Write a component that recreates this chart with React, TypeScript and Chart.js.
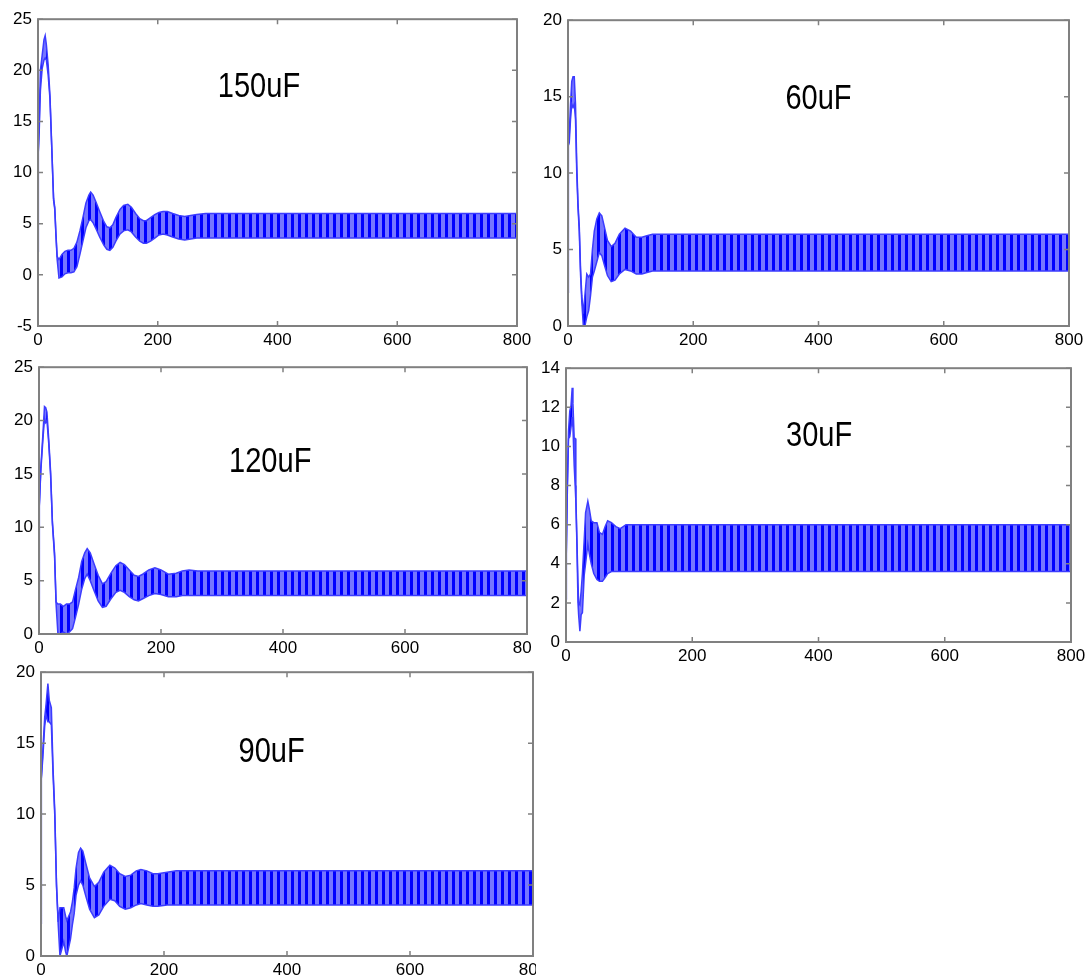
import React, { useEffect, useRef } from 'react';
import { Chart, registerables } from 'chart.js';

Chart.register(...registerables);

// ---------- data ----------
const xTickValues = [0, 200, 400, 600, 800];

// 150uF
const c150X = [0, 0.5, 2, 4, 7, 10, 12, 14, 17, 20, 23, 26, 28, 30, 32, 35, 40, 45, 50, 55, 60, 65, 70, 75, 80, 85, 88, 92, 97, 103, 110, 115, 120, 125, 130, 137, 143, 150, 156, 163, 170, 176, 181, 188, 195, 202, 209, 216, 225, 235, 245, 255, 265, 280, 800];
const c150Upper = [2.3, 12, 15, 20, 21.5, 23.0, 23.4, 22.5, 20.5, 17.5, 12.5, 7.5, 6.6, 4.0, 1.8, 1.5, 2.0, 2.3, 2.4, 2.4, 2.6, 3.2, 4.3, 5.6, 7.0, 7.8, 8.1, 7.8, 7.1, 6.2, 5.2, 4.7, 4.6, 4.9, 5.6, 6.4, 6.8, 6.9, 6.6, 6.0, 5.5, 5.3, 5.3, 5.6, 5.9, 6.1, 6.2, 6.2, 6.0, 5.8, 5.7, 5.8, 5.9, 6.0, 6.0];
const c150Lower = [2.3, 12, 14, 18, 20.2, 21.0, 21.2, 21.0, 19.5, 17.2, 12.3, 7.3, 6.4, 3.8, 1.5, -0.3, -0.2, 0.1, 0.2, 0.2, 0.3, 0.8, 2.0, 3.3, 4.6, 5.3, 5.4, 5.1, 4.5, 3.7, 2.9, 2.5, 2.4, 2.7, 3.3, 4.0, 4.3, 4.4, 4.2, 3.7, 3.3, 3.1, 3.1, 3.3, 3.6, 3.9, 4.0, 3.9, 3.7, 3.5, 3.4, 3.5, 3.6, 3.6, 3.6];
const c150YTicks = [-5, 0, 5, 10, 15, 20, 25];

// 60uF
const c60X = [0, 0.5, 2, 4, 6, 8, 10, 12, 14, 16, 18, 20, 22, 24.5, 27, 30, 33, 36, 39, 42, 46, 50, 54, 58, 63, 69, 75, 82, 91, 100, 109, 118, 126, 135, 800];
const c60Upper = [2.2, 11.8, 12.5, 14.5, 16.0, 16.3, 16.3, 14.5, 10.5, 8.0, 6.5, 3.8, 2.0, 0.8, 2.0, 3.4, 3.2, 3.4, 5.0, 6.2, 7.0, 7.4, 7.2, 6.5, 5.6, 5.2, 5.4, 6.0, 6.4, 6.2, 5.8, 5.8, 5.9, 6.0, 6.0];
const c60Lower = [2.2, 11.8, 12.0, 13.5, 14.5, 14.3, 14.5, 13.5, 10.0, 7.7, 6.2, 3.4, 1.6, 0.0, 0.0, 0.6, 1.0, 2.0, 3.2, 3.6, 4.2, 4.8, 4.6, 4.0, 3.3, 2.9, 3.0, 3.4, 3.7, 3.6, 3.4, 3.4, 3.5, 3.6, 3.6];
const c60YTicks = [0, 5, 10, 15, 20];

// 120uF
const c120X = [0, 0.5, 3, 6.5, 9, 11, 13, 16, 19, 22, 25.5, 28, 31, 35, 40, 45, 50, 55, 60, 65, 70, 75, 79, 84, 90, 97, 104, 110, 118, 126, 133, 140, 148, 156, 163, 170, 180, 190, 200, 212, 225, 235, 246, 260, 800];
const c120Upper = [2.3, 12, 15.6, 18.8, 21.3, 21.2, 20.8, 18.2, 15.2, 10.5, 7.6, 3.0, 2.8, 2.8, 2.6, 2.8, 2.8, 3.0, 4.2, 5.3, 6.8, 7.6, 8.0, 7.6, 6.6, 5.5, 4.7, 4.9, 5.7, 6.4, 6.7, 6.5, 6.0, 5.5, 5.4, 5.6, 6.0, 6.2, 6.0, 5.6, 5.7, 5.9, 6.0, 5.9, 5.9];
const c120Lower = [2.3, 12, 15.3, 18.3, 20.2, 19.8, 20.0, 17.8, 14.9, 10.3, 7.3, 2.8, 0.0, 0.0, 0.2, 0.0, 0.2, 0.5, 1.6, 2.8, 4.2, 5.2, 5.6, 5.0, 4.1, 3.1, 2.5, 2.6, 3.3, 3.9, 4.1, 3.9, 3.5, 3.2, 3.1, 3.3, 3.6, 3.8, 3.7, 3.5, 3.5, 3.6, 3.6, 3.6, 3.6];
const c120YTicks = [0, 5, 10, 15, 20, 25];

// 30uF
const c30X = [0, 0.5, 2, 4, 6, 8, 9.8, 11, 13, 14.5, 15.6, 17.3, 19, 20, 22, 24, 26, 28.8, 31, 34.6, 37, 40, 44, 49, 53, 57.7, 62, 66, 72, 79, 86, 95, 800];
const c30Upper = [2.2, 4.5, 8.0, 10.8, 11.8, 12.1, 13.0, 12.2, 10.4, 10.4, 7.5, 5.2, 3.0, 2.0, 1.9, 2.6, 3.5, 5.2, 6.6, 7.2, 6.8, 6.2, 6.1, 6.1, 5.6, 5.5, 5.9, 6.2, 6.1, 5.9, 5.8, 6.0, 6.0];
const c30Lower = [2.2, 4.5, 7.5, 10.4, 10.5, 11.0, 11.5, 11.0, 9.0, 8.0, 7.2, 5.0, 2.0, 1.4, 0.55, 1.4, 1.5, 3.4, 4.0, 5.0, 4.5, 4.0, 3.5, 3.2, 3.1, 3.1, 3.3, 3.5, 3.6, 3.6, 3.6, 3.6, 3.6];
const c30YTicks = [0, 2, 4, 6, 8, 10, 12, 14];

// 90uF
const c90X = [0, 0.5, 3, 6, 8.4, 11.2, 13.5, 16.8, 19.6, 22.4, 25.2, 28, 30.8, 34, 37, 40, 42, 45, 48, 51, 54, 57, 61, 64.4, 68, 73, 79, 86.8, 94, 102, 112, 120, 128, 137, 146, 155, 162.5, 172, 182, 190, 205, 220, 800];
const c90Upper = [2.3, 12.5, 14.5, 16.8, 17.8, 19.2, 18.0, 17.5, 13.2, 10.2, 5.1, 2.4, 3.4, 3.4, 3.4, 2.8, 2.5, 2.8, 3.1, 3.8, 4.8, 6.2, 7.3, 7.6, 7.4, 6.5, 5.5, 4.9, 5.2, 5.9, 6.4, 6.2, 5.8, 5.6, 5.7, 6.0, 6.1, 6.0, 5.8, 5.8, 5.9, 6.0, 6.0];
const c90Lower = [2.3, 12.5, 14.0, 16.2, 17.0, 16.5, 16.5, 16.3, 12.8, 9.9, 4.9, 2.2, 0.0, 0.5, 1.0, 0.3, 0.0, 0.6, 1.2, 2.2, 3.0, 4.3, 5.0, 5.3, 5.0, 4.2, 3.3, 2.7, 2.9, 3.5, 4.0, 3.9, 3.5, 3.3, 3.4, 3.6, 3.7, 3.6, 3.5, 3.5, 3.6, 3.6, 3.6];
const c90YTicks = [0, 5, 10, 15, 20];

// ---------- panel layout ----------
type PanelSpec = {
  label: string;
  labelX: number;
  labelY: number;
  xs: number[];
  upper: number[];
  lower: number[];
  yTicks: number[];
  left: number;
  top: number;
  canvasW: number;
  canvasH: number;
  clipW: number;
  yAxisW: number;
  padTop: number;
  padRight: number;
};

const PAD_TOP = 12;
const X_AXIS_H = 28;

const panels: PanelSpec[] = [
  { label: '150uF', labelX: 369, labelY: 18.6, xs: c150X, upper: c150Upper, lower: c150Lower, yTicks: c150YTicks,
    left: 0, top: 15 - PAD_TOP, canvasW: 545, canvasH: 311 + PAD_TOP + X_AXIS_H, clipW: 545, yAxisW: 38, padTop: PAD_TOP, padRight: 28 },
  { label: '60uF', labelX: 400, labelY: 15.0, xs: c60X, upper: c60Upper, lower: c60Lower, yTicks: c60YTicks,
    left: 530, top: 16 - PAD_TOP, canvasW: 561, canvasH: 310 + PAD_TOP + X_AXIS_H, clipW: 561, yAxisW: 38, padTop: PAD_TOP, padRight: 22 },
  { label: '120uF', labelX: 379, labelY: 16.4, xs: c120X, upper: c120Upper, lower: c120Lower, yTicks: c120YTicks,
    left: 0, top: 363 - PAD_TOP, canvasW: 555, canvasH: 271 + PAD_TOP + X_AXIS_H, clipW: 532, yAxisW: 39, padTop: PAD_TOP, padRight: 28 },
  { label: '30uF', labelX: 401, labelY: 10.65, xs: c30X, upper: c30Upper, lower: c30Lower, yTicks: c30YTicks,
    left: 530, top: 364 - PAD_TOP, canvasW: 561, canvasH: 278 + PAD_TOP + X_AXIS_H, clipW: 561, yAxisW: 36, padTop: PAD_TOP, padRight: 20 },
  { label: '90uF', labelX: 375, labelY: 14.55, xs: c90X, upper: c90Upper, lower: c90Lower, yTicks: c90YTicks,
    left: 0, top: 668 - PAD_TOP, canvasW: 561, canvasH: 288 + PAD_TOP + X_AXIS_H, clipW: 536, yAxisW: 41, padTop: PAD_TOP, padRight: 28 },
];

const FONT = '"Liberation Sans", Arial, Helvetica, sans-serif';

const framePlugin = {
  id: 'matlabFrame',
  afterDatasetsDraw(chart: any) {
    const { ctx, chartArea: a, scales } = chart;
    ctx.save();
    ctx.strokeStyle = '#808080';
    ctx.lineWidth = 2;
    ctx.strokeRect(a.left, a.top, a.right - a.left, a.bottom - a.top);
    ctx.lineWidth = 1.5;
    const tl = 5;
    ctx.beginPath();
    scales.x.ticks.forEach((t: any) => {
      const px = scales.x.getPixelForValue(t.value);
      ctx.moveTo(px, a.bottom);
      ctx.lineTo(px, a.bottom - tl);
      ctx.moveTo(px, a.top);
      ctx.lineTo(px, a.top + tl);
    });
    scales.y.ticks.forEach((t: any) => {
      const py = scales.y.getPixelForValue(t.value);
      ctx.moveTo(a.left, py);
      ctx.lineTo(a.left + tl, py);
      ctx.moveTo(a.right, py);
      ctx.lineTo(a.right - tl, py);
    });
    ctx.stroke();
    ctx.restore();
  },
};

const capLabelPlugin = {
  id: 'capLabel',
  afterDatasetsDraw(chart: any, _args: any, opts: any) {
    if (!opts || !opts.text) return;
    const { ctx, scales } = chart;
    const px = scales.x.getPixelForValue(opts.x);
    const py = scales.y.getPixelForValue(opts.y);
    ctx.save();
    ctx.font = `${opts.size}px ${FONT}`;
    ctx.fillStyle = '#000';
    ctx.textAlign = 'center';
    ctx.textBaseline = 'alphabetic';
    ctx.translate(px, py);
    ctx.scale(opts.squeeze, 1);
    ctx.fillText(opts.text, 0, opts.size * 0.358);
    ctx.restore();
  },
};

function makeStripes(): CanvasPattern | string {
  const c = document.createElement('canvas');
  c.width = 7;
  c.height = 1;
  const g = c.getContext('2d');
  if (!g) return 'rgba(100,100,255,1)';
  g.fillStyle = 'rgb(118,118,255)';
  g.fillRect(0, 0, 7, 1);
  g.fillStyle = 'rgb(0,0,255)';
  g.fillRect(4, 0, 3, 1);
  const p = g.createPattern(c, 'repeat');
  return p || 'rgba(100,100,255,1)';
}

function Panel({ spec }: { spec: PanelSpec }) {
  const ref = useRef<HTMLCanvasElement>(null);
  useEffect(() => {
    const canvas = ref.current;
    if (!canvas) return;
    const stripes = makeStripes();
    const lowerPts = spec.xs.map((x, i) => ({ x, y: spec.lower[i] }));
    const upperPts = spec.xs.map((x, i) => ({ x, y: spec.upper[i] }));
    const tickFont = { family: FONT, size: 17 };
    const chart = new Chart(canvas, {
      type: 'line',
      data: {
        datasets: [
          {
            data: lowerPts,
            borderColor: 'rgb(60,60,255)',
            borderWidth: 1.5,
            pointRadius: 0,
            tension: 0,
            fill: false,
          },
          {
            data: upperPts,
            borderColor: 'rgb(60,60,255)',
            borderWidth: 1.5,
            pointRadius: 0,
            tension: 0,
            fill: '-1',
            backgroundColor: stripes as any,
          },
        ],
      },
      options: {
        animation: false,
        responsive: false,
        events: [],
        layout: { padding: { left: 0, top: spec.padTop, right: spec.padRight, bottom: 0 } },
        plugins: {
          legend: { display: false },
          tooltip: { enabled: false },
          capLabel: { text: spec.label, x: spec.labelX, y: spec.labelY, size: 35, squeeze: 0.83 },
        } as any,
        scales: {
          x: {
            type: 'linear',
            min: 0,
            max: 800,
            afterBuildTicks: (s: any) => {
              s.ticks = xTickValues.map((v) => ({ value: v }));
            },
            afterFit: (s: any) => {
              s.height = X_AXIS_H;
            },
            grid: { display: false, drawTicks: false },
            border: { display: false },
            ticks: { font: tickFont, color: '#000', padding: 4, maxRotation: 0, autoSkip: false },
          },
          y: {
            type: 'linear',
            min: spec.yTicks[0],
            max: spec.yTicks[spec.yTicks.length - 1],
            afterBuildTicks: (s: any) => {
              s.ticks = spec.yTicks.map((v) => ({ value: v }));
            },
            afterFit: (s: any) => {
              s.width = spec.yAxisW;
            },
            grid: { display: false, drawTicks: false },
            border: { display: false },
            ticks: { font: tickFont, color: '#000', padding: 6, autoSkip: false },
          },
        },
      },
      plugins: [framePlugin, capLabelPlugin],
    } as any);
    return () => chart.destroy();
  }, [spec]);

  return (
    <div
      style={{
        position: 'absolute',
        left: spec.left,
        top: spec.top,
        width: spec.clipW,
        height: spec.canvasH,
        overflow: 'hidden',
      }}
    >
      <canvas ref={ref} width={spec.canvasW} height={spec.canvasH} style={{ display: 'block' }} />
    </div>
  );
}

export default function App() {
  return (
    <div
      style={{
        position: 'absolute',
        left: 0,
        top: 0,
        width: 1091,
        height: 978,
        overflow: 'hidden',
        background: '#fff',
      }}
    >
      {panels.map((p) => (
        <Panel key={p.label} spec={p} />
      ))}
    </div>
  );
}
